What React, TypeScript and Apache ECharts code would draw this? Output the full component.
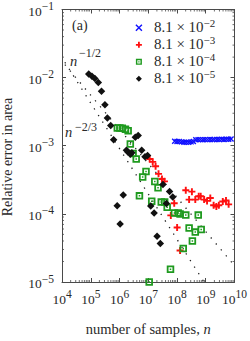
import React, { useEffect, useRef } from "react";
import * as echarts from "echarts";

const FONT = "'Liberation Serif', 'Times New Roman', serif";
const TXT = "#2a2a2a";
const AX = "#4a4a4a";

const X_MIN = 1e4;
const X_MAX = 1e10;
const Y_MIN = 1e-5;
const Y_MAX = 1e-1;

const seriesNames = ["8.1e-2", "8.1e-3", "8.1e-4", "8.1e-5"];
const legendMantissa = "8.1 × 10";
const legendExponents = ["−2", "−3", "−4", "−5"];
const yTitle = "Relative error in area";

const blueN = [8.3e7, 1.0e8, 1.2e8, 1.45e8, 1.75e8, 2.1e8, 2.55e8, 3.1e8, 3.7e8, 4.5e8, 5.4e8, 6.5e8, 7.9e8, 9.5e8, 1.15e9, 1.4e9, 1.7e9, 2.0e9, 2.45e9, 2.95e9, 3.6e9, 4.3e9, 5.2e9, 6.3e9, 7.6e9];
const blueErr = [1.16e-3, 1.15e-3, 1.15e-3, 1.14e-3, 1.13e-3, 1.13e-3, 1.13e-3, 1.14e-3, 1.15e-3, 1.22e-3, 1.23e-3, 1.23e-3, 1.22e-3, 1.23e-3, 1.23e-3, 1.24e-3, 1.23e-3, 1.24e-3, 1.24e-3, 1.24e-3, 1.25e-3, 1.24e-3, 1.25e-3, 1.25e-3, 1.26e-3];

const redN = [1.12e7, 1.43e7, 1.8e7, 2.28e7, 3.0e7, 3.66e7, 6.09e7, 8.0e7, 1.01e8, 1.28e8, 2.02e8, 2.64e8, 3.3e8, 4.33e8, 5.7e8, 6.67e8, 8.79e8, 1.11e9, 1.44e9, 1.88e9, 2.34e9, 2.85e9, 3.91e9, 5.06e9, 6.25e9];
const redErr = [6.4e-4, 5.8e-4, 4.99e-4, 3.87e-4, 3.25e-4, 3.0e-4, 9.5e-5, 1.43e-4, 6.3e-5, 2.9e-5, 2.22e-4, 1.62e-4, 2.12e-4, 1.62e-4, 1.81e-4, 1.81e-4, 1.62e-4, 1.55e-4, 1.71e-4, 1.34e-4, 1.28e-4, 1.34e-4, 1.52e-4, 1.57e-4, 1.38e-4];

const greenN = [8.4e5, 1.03e6, 1.25e6, 1.61e6, 2.0e6, 2.38e6, 2.97e6, 3.81e6, 4.94e6, 6.4e6, 8.36e6, 1.08e7, 1.32e7, 1.69e7, 2.19e7, 2.84e7, 3.72e7, 4.55e7, 5.94e7, 8.14e7, 1.1e8, 1.28e8, 1.65e8, 2.02e8, 2.64e8, 3.43e8, 4.33e8, 5.48e8, 6.94e8];
const greenErr = [1.82e-3, 1.82e-3, 1.8e-3, 1.74e-3, 1.66e-3, 1.06e-3, 7.7e-4, 6.4e-4, 1.84e-4, 3.47e-4, 4.19e-4, 1.0e-5, 1.53e-4, 2.99e-4, 2.42e-4, 1.49e-4, 1.49e-4, 1.25e-4, 1.54e-5, 1.03e-4, 1.03e-4, 1.0e-4, 3.1e-5, 9.6e-5, 6.2e-5, 4.0e-5, 5.4e-5, 9.6e-5, 5.9e-5];

const blackN = [8.5e4, 1.1e5, 1.39e5, 1.83e5, 2.37e5, 3.11e5, 3.79e5, 4.95e5, 6.26e5, 8.3e5, 1.05e6, 1.35e6, 1.74e6, 1.97e6, 2.38e6, 2.7e6, 3.55e6, 4.46e6, 5.91e6, 7.72e6, 9.47e6, 1.22e7, 1.6e7, 2.03e7, 2.63e7, 3.25e7, 4.28e7, 5.5e7, 7.12e7];
const blackErr = [1.13e-2, 1.05e-2, 9.7e-3, 8.5e-3, 6.3e-3, 4.0e-3, 2.55e-3, 1.98e-3, 1.23e-3, 1.32e-4, 7.1e-5, 1.9e-4, 8.6e-4, 8.1e-4, 7.5e-4, 7.9e-4, 1.33e-3, 1.41e-3, 8.6e-4, 6.9e-4, 7.2e-4, 1.3e-4, 1.03e-4, 4.7e-5, 3.66e-5, 2.69e-4, 1.42e-4, 2.13e-4, 1.77e-4];

// reference slopes n^-1/2 and n^-2/3
const halfN = [1.26e4, 1e10];
const halfErr = [1.55e-2, 1.74e-5];
const twoThirdsN = [1.26e4, 8.7e8];
const twoThirdsErr = [1.68e-2, 1e-5];

const minorMultipliers = [2, 3, 4, 5, 6, 7, 8, 9];
const xDecades = [1e4, 1e5, 1e6, 1e7, 1e8, 1e9];
const yDecades = [1e-5, 1e-4, 1e-3, 1e-2];

const zip = (a: number[], b: number[]) => a.map((v, i) => [v, b[i]]);

const CROSS = "path://M0,0L10,10M10,0L0,10";
const PLUS = "path://M5,0L5,10M0,5L10,5";
const SQUARE = "path://M0,0L10,0L10,10L0,10Z M2.4,2.4L2.4,7.6L7.6,7.6L7.6,2.4Z M4,4L6,4L6,6L4,6Z";
const DIAMOND = "path://M5,0L10,5L5,10L0,5Z";

const BLUE = "#1010ff";
const RED = "#ff1010";
const GREEN = "#1f9a1f";
const BLACK = "#111111";

const supRich = (base: number, sup: number) => ({
  b: { fontFamily: FONT, fontSize: base, color: TXT, lineHeight: 17, verticalAlign: "bottom" },
  s: { fontFamily: FONT, fontSize: sup, color: TXT, lineHeight: 17, verticalAlign: "bottom", padding: [0, 0, 6, 0] },
});

const expLabel = (v: number) => {
  const e = Math.round(Math.log10(v));
  const t = e < 0 ? "−" + Math.abs(e) : String(e);
  return "{b|10}{s|" + t + "}";
};

export default function App() {
  const ref = useRef<HTMLDivElement>(null);
  useEffect(() => {
    if (!ref.current) return;
    const chart = echarts.init(ref.current, undefined, { renderer: "svg" });
    const minorX: number[] = [];
    xDecades.forEach((d) => minorMultipliers.forEach((m) => minorX.push(m * d)));
    const minorY: number[] = [];
    yDecades.forEach((d) => minorMultipliers.forEach((m) => minorY.push(m * d)));

    const tickLine = (x1: number, y1: number, x2: number, y2: number) => ({
      type: "line",
      shape: { x1, y1, x2, y2 },
      style: { stroke: AX, lineWidth: 0.8 },
      silent: true,
    });

    const txt = (text: string, x: number, y: number, size: number, italic = false, align = "left", rotation = 0) => ({
      type: "text",
      x,
      y,
      rotation,
      silent: true,
      style: {
        text,
        fontFamily: FONT,
        fontSize: size,
        fontStyle: italic ? "italic" : "normal",
        fill: TXT,
        align,
        textAlign: align,
        verticalAlign: "middle",
        textVerticalAlign: "middle",
      },
    });

    const option: any = {
      animation: false,
      backgroundColor: "#ffffff",
      grid: { left: 62, right: 12, top: 7, bottom: 43, containLabel: false },
      xAxis: [
        {
          type: "log",
          logBase: 10,
          min: X_MIN,
          max: X_MAX,
          splitNumber: 6,
          position: "bottom",
          axisLine: { show: true, lineStyle: { color: AX, width: 1 } },
          axisTick: { show: true, inside: true, length: 4, lineStyle: { color: AX } },
          splitLine: { show: false },
          axisLabel: { margin: 7, formatter: expLabel, rich: supRich(13.5, 11.5) },
          name: "number of samples, {i|n}",
          nameLocation: "middle",
          nameGap: 39,
          nameTextStyle: {
            fontFamily: FONT,
            fontSize: 14.5,
            color: TXT,
            rich: { i: { fontFamily: FONT, fontSize: 14.5, fontStyle: "italic", color: TXT } },
          },
        },
        {
          type: "log",
          logBase: 10,
          min: X_MIN,
          max: X_MAX,
          splitNumber: 6,
          position: "top",
          axisLine: { show: true, lineStyle: { color: AX, width: 1 } },
          axisTick: { show: true, inside: true, length: 4, lineStyle: { color: AX } },
          axisLabel: { show: false },
          splitLine: { show: false },
        },
      ],
      yAxis: [
        {
          type: "log",
          logBase: 10,
          min: Y_MIN,
          max: Y_MAX,
          splitNumber: 4,
          position: "left",
          axisLine: { show: true, lineStyle: { color: AX, width: 1 } },
          axisTick: { show: true, inside: true, length: 4, lineStyle: { color: AX } },
          splitLine: { show: false },
          axisLabel: { margin: 8, formatter: expLabel, rich: supRich(13.5, 11.5) },
        },
        {
          type: "log",
          logBase: 10,
          min: Y_MIN,
          max: Y_MAX,
          splitNumber: 4,
          position: "right",
          axisLine: { show: true, lineStyle: { color: AX, width: 1 } },
          axisTick: { show: true, inside: true, length: 4, lineStyle: { color: AX } },
          axisLabel: { show: false },
          splitLine: { show: false },
        },
      ],
      legend: {
        orient: "vertical",
        left: 130,
        top: 12,
        itemWidth: 20,
        itemHeight: 6,
        itemGap: 0,
        selectedMode: false,
        symbolKeepAspect: true,
        formatter: (name: string) => {
          const i = seriesNames.indexOf(name);
          return "{m|" + legendMantissa + "}{s|" + legendExponents[i] + "}";
        },
        textStyle: {
          rich: {
            m: { fontFamily: FONT, fontSize: 15, color: TXT, lineHeight: 12.3, verticalAlign: "bottom" },
            s: { fontFamily: FONT, fontSize: 11, color: TXT, lineHeight: 12.3, verticalAlign: "bottom", padding: [0, 0, 6, 0] },
          },
        },
        data: [
          { name: seriesNames[0], icon: CROSS, itemStyle: { color: BLUE, borderColor: BLUE, borderWidth: 1.4 } },
          { name: seriesNames[1], icon: PLUS, itemStyle: { color: RED, borderColor: RED, borderWidth: 1.8 } },
          { name: seriesNames[2], icon: SQUARE, itemStyle: { color: GREEN, borderWidth: 0 } },
          { name: seriesNames[3], icon: DIAMOND, itemStyle: { color: BLACK, borderWidth: 0 } },
        ],
      },
      graphic: [
        txt(yTitle, 7, 157, 14, false, "center", Math.PI / 2),
        txt("(a)", 72, 25, 14),
        txt("n", 70, 61, 14.5, true),
        txt("−1/2", 79, 53, 12),
        txt("n", 65, 132, 14.5, true),
        txt("−2/3", 75, 127, 12),
      ],
      series: [
        {
          type: "custom",
          silent: true,
          xAxisIndex: 0,
          yAxisIndex: 0,
          data: minorX.map((v) => [v, Y_MIN]),
          renderItem: (_p: any, api: any) => {
            const v = api.value(0);
            const b = api.coord([v, Y_MIN]);
            const t = api.coord([v, Y_MAX]);
            return {
              type: "group",
              children: [tickLine(b[0], b[1], b[0], b[1] - 2), tickLine(t[0], t[1], t[0], t[1] + 2)],
            };
          },
          z: 1,
        },
        {
          type: "custom",
          silent: true,
          xAxisIndex: 0,
          yAxisIndex: 0,
          data: minorY.map((v) => [X_MIN, v]),
          renderItem: (_p: any, api: any) => {
            const v = api.value(1);
            const l = api.coord([X_MIN, v]);
            const r = api.coord([X_MAX, v]);
            return {
              type: "group",
              children: [tickLine(l[0], l[1], l[0] + 2, l[1]), tickLine(r[0], r[1], r[0] - 2, r[1])],
            };
          },
          z: 1,
        },
        {
          type: "line",
          silent: true,
          symbol: "none",
          data: zip(halfN, halfErr),
          lineStyle: { color: "#222", width: 1.3, type: [1.3, 6.5] },
          z: 2,
        },
        {
          type: "line",
          silent: true,
          symbol: "none",
          data: zip(twoThirdsN, twoThirdsErr),
          lineStyle: { color: "#222", width: 1.3, type: [1.3, 6.5] },
          z: 2,
        },
        {
          name: seriesNames[0],
          type: "scatter",
          symbol: CROSS,
          symbolSize: 5,
          data: zip(blueN, blueErr),
          itemStyle: { color: BLUE, borderColor: BLUE, borderWidth: 1.4, opacity: 1 },
          z: 3,
        },
        {
          name: seriesNames[1],
          type: "scatter",
          symbol: PLUS,
          symbolSize: 7,
          data: zip(redN, redErr),
          itemStyle: { color: RED, borderColor: RED, borderWidth: 1.9, opacity: 1 },
          z: 3,
        },
        {
          name: seriesNames[2],
          type: "scatter",
          symbol: SQUARE,
          symbolSize: 7.5,
          data: zip(greenN, greenErr),
          itemStyle: { color: GREEN, opacity: 1 },
          z: 4,
        },
        {
          name: seriesNames[3],
          type: "scatter",
          symbol: DIAMOND,
          symbolSize: 7.5,
          data: zip(blackN, blackErr),
          itemStyle: { color: BLACK, opacity: 1 },
          z: 5,
        },
      ],
    };
    chart.setOption(option);
    return () => chart.dispose();
  }, []);
  return <div ref={ref} style={{ position: "fixed", left: 0, top: 0, width: 250, height: 341 }} />;
}
